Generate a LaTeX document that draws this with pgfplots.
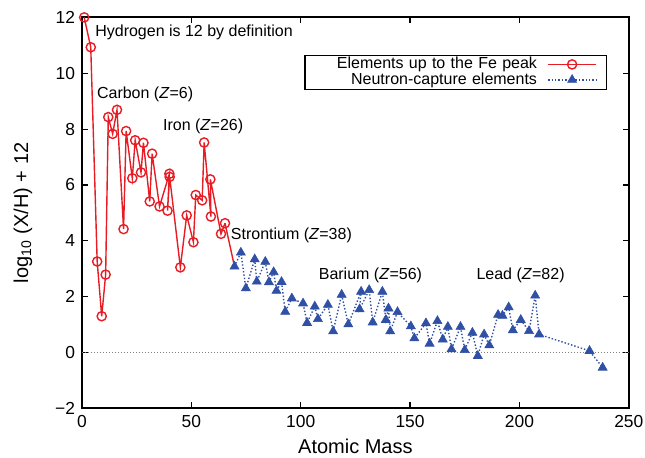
\documentclass[border=0pt]{standalone}
\usepackage{fontspec}
\setmainfont{Liberation Sans}
\usepackage{pgfplots}
\pgfplotsset{compat=1.18}
\definecolor{fered}{RGB}{232,28,36}
\definecolor{ncblue}{RGB}{48,80,165}

\pgfplotstableread{
A     val
1.008 12.00
4.003 10.93
6.94  3.26
9.012 1.30
10.81 2.79
12.01 8.43
14.01 7.83
16.00 8.69
19.00 4.42
20.18 7.93
22.99 6.24
24.31 7.60
26.98 6.45
28.09 7.51
30.97 5.41
32.06 7.12
35.45 5.23
39.95 6.40
39.10 5.08
40.08 6.29
44.96 3.05
47.87 4.91
50.94 3.95
52.00 5.64
54.94 5.45
55.85 7.52
58.93 4.87
58.69 6.20
63.55 4.25
65.38 4.63
}\fepeak

\pgfplotstableread{
A      val
69.72  3.08
72.63  3.58
74.92  2.30
78.97  3.34
79.90  2.54
83.80  3.25
85.47  2.52
87.62  2.88
88.91  2.21
91.22  2.53
92.91  1.46
95.95  1.94
101.07 1.76
102.91 1.06
106.42 1.65
107.87 1.20
112.41 1.71
114.82 0.76
118.71 2.07
121.76 1.01
127.60 2.18
126.90 1.55
131.29 2.24
132.91 1.08
137.33 2.18
138.91 1.17
140.12 1.58
140.91 0.76
144.24 1.45
150.36 0.94
151.96 0.51
157.25 1.05
158.93 0.32
162.50 1.13
164.93 0.47
167.26 0.92
168.93 0.12
173.05 0.92
174.97 0.09
178.49 0.71
180.95 -0.12
183.84 0.65
186.21 0.26
190.23 1.35
192.22 1.32
195.08 1.62
196.97 0.80
200.59 1.17
204.38 0.77
207.20 2.04
208.98 0.65
232.04 0.06
238.03 -0.54
}\ncap

\begin{document}
\begin{tikzpicture}
\begin{axis}[
  scale only axis, width=273.4pt, height=195.5pt,
  xmin=0, xmax=250, ymin=-2, ymax=12,
  xtick={0,50,...,250}, ytick={-2,0,...,12},
  yticklabels={−2,0,2,4,6,8,10,12},
  tick align=inside, major tick length=3pt,
  axis line style={line width=0.9pt},
  tick style={line width=0.6pt, black},
  /pgf/number format/assume math mode=true,
  ticklabel style={font=\fontsize{8.7}{8.7}\selectfont},
  xlabel={Atomic Mass},
  ylabel={log\textsubscript{10} (X/H) + 12},
  label style={font=\fontsize{10}{10}\selectfont},
  xlabel style={at={(axis description cs:0.5,-0.098)}, anchor=center},
  ylabel style={at={(axis description cs:-0.108,0.5)}, anchor=center},
  clip=false,
  legend style={at={(axis description cs:0.9598,0.905)}, anchor=north east,
    draw=black, line width=0.6pt, font=\fontsize{8}{8}\selectfont,
    inner xsep=0pt, inner ysep=0.5pt, row sep=-0.6pt, column sep=0pt,
    legend cell align=right, legend plot pos=right,
    nodes={text width=116pt, align=right, inner xsep=0pt, inner ysep=0.3pt, text height=6pt, text depth=1.7pt}},
  legend image code/.code={\draw[mark repeat=2,mark phase=2,#1] plot coordinates {(0pt,0pt) (12pt,0pt) (24pt,0pt)};\draw[opacity=0, solid, line width=0.1pt] (-5.5pt,0pt) -- (29pt,0pt);},
]
\addplot[gray, densely dotted, line width=0.5pt, forget plot] coordinates {(0,0) (250,0)};
\addplot[fered, line width=0.7pt, forget plot] coordinates {(65.38,4.63) (69.72,3.08)};
\addplot[fered, line width=0.7pt, mark=o, mark size=2.3pt, mark options={solid, line width=0.7pt}] table[x=A,y=val] {\fepeak};
\addlegendentry{Elements up to the Fe peak}
\addplot[ncblue, densely dotted, line width=0.7pt, mark=triangle*, mark size=2.6pt, mark options={solid, fill=ncblue, line width=0.3pt}] table[x=A,y=val] {\ncap};
\addlegendentry{Neutron-capture elements}

\begin{scope}[every node/.style={font=\fontsize{8}{8}\selectfont, anchor=west, inner sep=0pt}]
\node at (axis cs:5.9,11.48) {Hydrogen is 12 by definition};
\node at (axis cs:6.7,9.26) {Carbon (\textit{Z}=6)};
\node at (axis cs:36.9,8.09) {Iron (\textit{Z}=26)};
\node at (axis cs:67.9,4.18) {Strontium (\textit{Z}=38)};
\node at (axis cs:108.1,2.78) {Barium (\textit{Z}=56)};
\node at (axis cs:180.2,2.78) {Lead (\textit{Z}=82)};
\end{scope}
\end{axis}
\pgfresetboundingbox
\path[use as bounding box] ([shift={(-41pt,-24.5pt)}]current axis.south west) rectangle ([shift={(8.1pt,8.7pt)}]current axis.north east);
\end{tikzpicture}
\end{document}
